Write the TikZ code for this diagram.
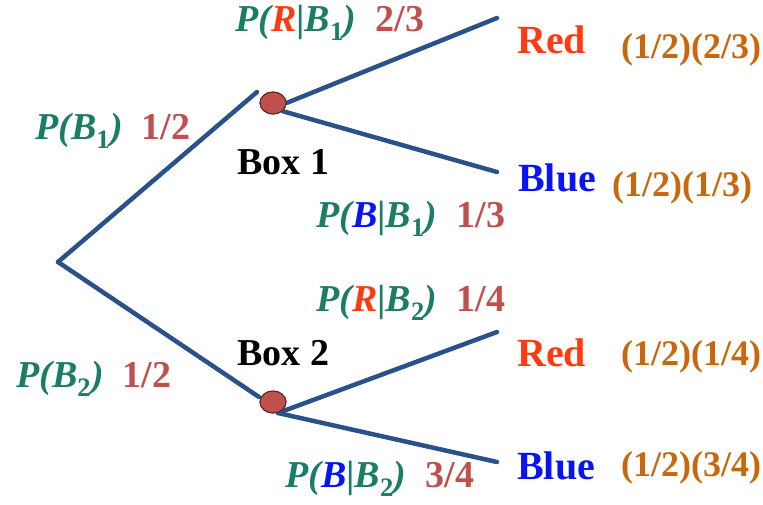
\documentclass[tikz,border=0pt]{standalone}
\usepackage{fontspec}
\setmainfont{LiberationSerif}[Extension=.ttf, UprightFont=*-Regular,
  BoldFont=*-Bold, ItalicFont=*-Italic, BoldItalicFont=*-BoldItalic]
\usetikzlibrary{shapes.geometric}
\definecolor{treeBlue}{HTML}{2A5189}
\definecolor{probGreen}{HTML}{1B7C68}
\definecolor{numRed}{HTML}{C0504D}
\definecolor{outRed}{HTML}{FF3A12}
\definecolor{outBlue}{HTML}{0A14F0}
\definecolor{prodOrange}{HTML}{C8680E}
\definecolor{dotEdge}{HTML}{5A2626}
\tikzset{
  branch/.style={treeBlue, line width=4.5pt, line cap=round},
  boxdot/.style={ellipse, draw=dotEdge, fill=numRed, line width=1pt,
                 minimum width=26pt, minimum height=22pt, inner sep=0pt},
  probLbl/.style={anchor=west, inner sep=0pt, text=probGreen,
                  font=\fontsize{38}{44}\selectfont\bfseries\itshape},
  boxLbl/.style={anchor=west, inner sep=0pt, text=black,
                 font=\fontsize{38}{44}\selectfont\bfseries},
  outLbl/.style={anchor=west, inner sep=0pt,
                 font=\fontsize{40}{46}\selectfont\bfseries},
  prodLbl/.style={anchor=west, inner sep=0pt, text=prodOrange,
                  font=\fontsize{36}{42}\selectfont\bfseries},
}
\newcommand{\val}[1]{\hspace{0.5em}\textcolor{numRed}{\upshape #1}}
\newcommand{\sub}[1]{\textsubscript{\upshape #1}}

\begin{document}
\begin{tikzpicture}[x=1pt, y=-1pt]
  \useasboundingbox (0,0) rectangle (763,504);
  % tree points
  \coordinate (root) at (58,262);
  \node[boxdot] (b1) at (273,103) {};
  \node[boxdot] (b2) at (273,402) {};
  \coordinate (b1in) at (257,92);
  \coordinate (b2in) at (259,397);
  \coordinate (b2out) at (278,413);
  \coordinate (r1) at (497,18);
  \coordinate (u1) at (497,172);
  \coordinate (r2) at (497,332);
  \coordinate (u2) at (497,462);
  % branches
  \draw[branch] (root) -- (b1in);
  \draw[branch] (root) -- (b2in);
  \draw[branch] (b1.east) -- (r1);
  \draw[branch] (b1.south east) -- (u1);
  \draw[branch] (b2out) -- (r2);
  \draw[branch] (b2out) -- (u2);
  \node[boxdot] at (b1) {};
  \node[boxdot] at (b2) {};
  % labels
  \node[probLbl] (pb1) at (35,131) {P(B\sub{1})\val{1/2}};
  \node[probLbl] (pb2) at (16,379) {P(B\sub{2})\val{1/2}};
  \node[boxLbl] (box1) at (237,162) {Box 1};
  \node[boxLbl] (box2) at (237,353) {Box 2};
  \node[probLbl] (prb1) at (235,23) {P(\textcolor{outRed}{R}\textup{|}B\sub{1})\val{2/3}};
  \node[probLbl] (pbb1) at (316,219) {P(\textcolor{outBlue}{B}\textup{|}B\sub{1})\val{1/3}};
  \node[probLbl] (prb2) at (316,303) {P(\textcolor{outRed}{R}\textup{|}B\sub{2})\val{1/4}};
  \node[probLbl] (pbb2) at (285,479) {P(\textcolor{outBlue}{B}\textup{|}B\sub{2})\val{3/4}};
  % outcomes
  \node[outLbl, text=outRed] (red1) at (517,40) {Red};
  \node[outLbl, text=outBlue] (blue1) at (518,178) {Blue};
  \node[outLbl, text=outRed] (red2) at (517,353) {Red};
  \node[outLbl, text=outBlue] (blue2) at (517,466) {Blue};
  \node[prodLbl] (p1) at (621,50) {(1/2)(2/3)};
  \node[prodLbl] (p2) at (612,188) {(1/2)(1/3)};
  \node[prodLbl] (p3) at (621,357) {(1/2)(1/4)};
  \node[prodLbl] (p4) at (621,468) {(1/2)(3/4)};
\end{tikzpicture}
\end{document}
